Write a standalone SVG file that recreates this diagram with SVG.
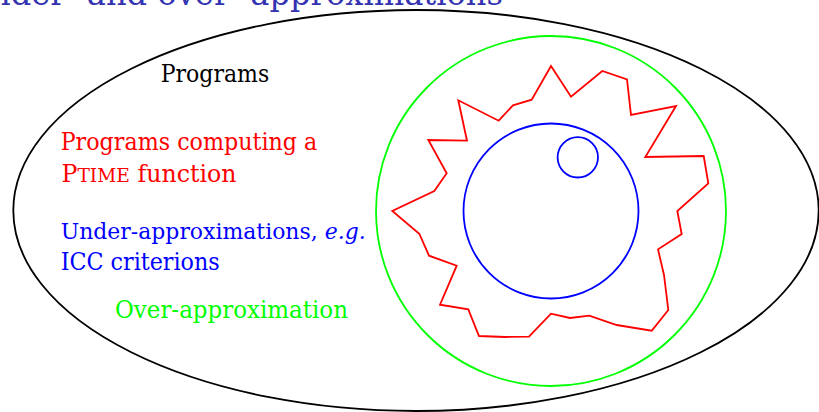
<svg xmlns="http://www.w3.org/2000/svg" width="819" height="412" viewBox="0 0 819 412">
<style>
text{font-family:"DejaVu Serif","Liberation Serif",serif;font-size:23.5px}
.title{font-size:34px;fill:#3333b2}
.k{fill:#000}.r{fill:#ff0000}.b{fill:#0000ff}.g{fill:#00ff00}
.shape{fill:none;stroke-width:1.8;stroke-linejoin:miter}
</style>
<rect width="819" height="412" fill="#fff"/>
<text class="title" x="-37" y="5" textLength="540" lengthAdjust="spacingAndGlyphs">Under- and over- approximations</text>
<g id="programs">
<ellipse class="shape" cx="416" cy="210.5" rx="402.7" ry="200.5" stroke="#000"/>
<text class="k" x="160.7" y="82" textLength="108.6" lengthAdjust="spacingAndGlyphs">Programs</text>
</g>
<g id="over-approximation">
<circle class="shape" cx="551" cy="211" r="175" stroke="#00ff00"/>
<text class="g" x="115" y="317.5" textLength="233" lengthAdjust="spacingAndGlyphs">Over-approximation</text>
</g>
<g id="ptime">
<polygon class="shape" stroke="#ff0000" points="551,66 571,96.7 602.3,71 627,79.3 631,115 676,106 645.3,157 703.7,156 708.3,183.3 677.3,211 681.7,234 658,249.3 664,275 668.3,310 651.7,330.7 616.7,325 589.3,315.7 570,318 551,313.7 529,336.7 505,337 479,336 468.3,309.3 440,304.7 456.7,265.7 429,255.7 419.3,233.7 392.3,211 434.3,191 446.7,173.3 428.3,140 467,140.7 458.3,100.3 498.7,120.7 513,105.3 531.7,99.7"/>
<text class="r" x="60.7" y="150" textLength="256.6" lengthAdjust="spacingAndGlyphs">Programs computing a</text>
<text class="r" x="61.5" y="182" textLength="175" lengthAdjust="spacingAndGlyphs">P<tspan font-size="18.5">TIME</tspan> function</text>
</g>
<g id="under-approximation">
<circle class="shape" cx="551" cy="211" r="87.5" stroke="#0000ff"/>
<circle class="shape" cx="577.8" cy="157.3" r="20.2" stroke="#0000ff"/>
<text class="b" x="60.7" y="238.5" font-size="22.5" style="font-size:22.5px" textLength="305" lengthAdjust="spacingAndGlyphs">Under-approximations, <tspan font-style="italic">e.g.</tspan></text>
<text class="b" x="60.7" y="270" textLength="159" lengthAdjust="spacingAndGlyphs">ICC criterions</text>
</g>
<g id="connectors"/>
</svg>
